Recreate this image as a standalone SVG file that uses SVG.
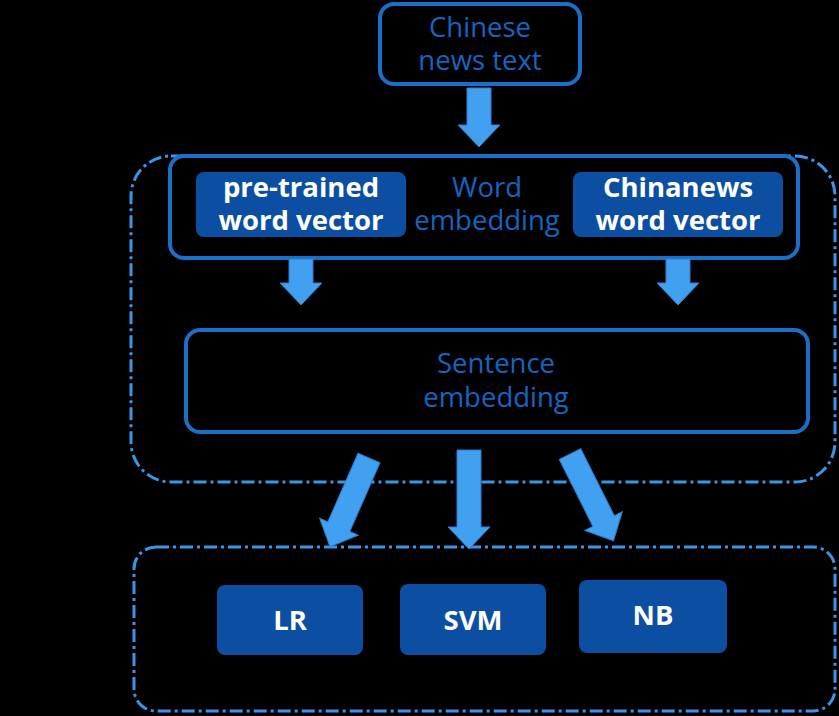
<svg xmlns="http://www.w3.org/2000/svg" width="839" height="716" viewBox="0 0 839 716">
<style>
.bg{fill:#000}
.outl{fill:none;stroke:#1a70c8;stroke-width:4}
.dash{fill:none;stroke:#3a95e4;stroke-width:3;stroke-dasharray:13 4 3 4}
.solid{fill:#0b4ea2}
.lt{font-family:"Open Sans","Noto Sans",sans-serif;font-size:27.5px;fill:#1565c0;text-anchor:middle}
.bt{font-family:"Open Sans","Noto Sans",sans-serif;font-size:27.5px;font-weight:bold;fill:#fff;text-anchor:middle}
.arr{fill:#42a0f0;stroke:#2a7fd0;stroke-width:1}
</style>
<defs>
<polygon id="a97" points="-12,0 12,0 12,75 21,75 0,97 -21,75 -12,75"/>
</defs>
<rect class="bg" width="839" height="716"/>
<g id="containers">
<rect class="dash" x="131" y="156" width="704" height="326" rx="40"/>
<rect class="dash" x="134" y="547" width="701" height="164" rx="22"/>
</g>
<g id="n-input">
<rect class="outl" x="380" y="4" width="200" height="80" rx="14"/>
<text class="lt" x="480" y="37">Chinese</text>
<text class="lt" x="480" y="70">news text</text>
</g>
<g id="n-word">
<rect class="outl" x="170" y="156" width="628" height="102" rx="14"/>
<text class="lt" x="487" y="197">Word</text>
<text class="lt" x="487" y="230">embedding</text>
</g>
<g id="n-pre">
<rect class="solid" x="196" y="172" width="210" height="65" rx="8"/>
<text class="bt" x="301" y="197">pre-trained</text>
<text class="bt" x="301" y="230">word vector</text>
</g>
<g id="n-cn">
<rect class="solid" x="573" y="172" width="210" height="65" rx="8"/>
<text class="bt" x="678" y="197">Chinanews</text>
<text class="bt" x="678" y="230">word vector</text>
</g>
<g id="n-sent">
<rect class="outl" x="186" y="330" width="622" height="102" rx="14"/>
<text class="lt" x="496" y="373">Sentence</text>
<text class="lt" x="496" y="407">embedding</text>
</g>
<g id="n-lr">
<rect class="solid" x="217" y="585" width="146" height="70" rx="8"/>
<text class="bt" x="290" y="630">LR</text>
</g>
<g id="n-svm">
<rect class="solid" x="400" y="584" width="146" height="71" rx="8"/>
<text class="bt" x="473" y="630">SVM</text>
</g>
<g id="n-nb">
<rect class="solid" x="579" y="580" width="148" height="73" rx="8"/>
<text class="bt" x="653" y="625">NB</text>
</g>
<g id="connectors">
<polygon class="arr" points="467,88 491,88 491,125 500,125 479,147 458,125 467,125"/>
<polygon class="arr" points="289,259 313,259 313,283 322,283 301,305 280,283 289,283"/>
<polygon class="arr" points="666,259 690,259 690,283 699,283 678,305 657,283 666,283"/>
<use href="#a97" class="arr" transform="translate(369,458) rotate(23.7)"/>
<polygon class="arr" points="457,450 481,450 481,527 490,527 469,549 448,527 457,527"/>
<use href="#a97" class="arr" transform="translate(570,454) rotate(-26.6)"/>
</g>
</svg>
